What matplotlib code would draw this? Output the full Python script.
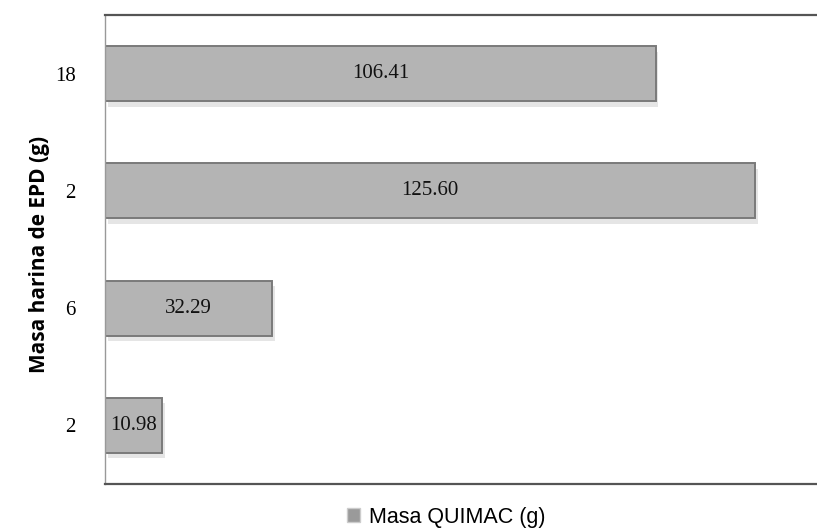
import matplotlib.pyplot as plt
import matplotlib.patheffects as pe
from matplotlib.patches import Patch

categories = ["2", "6", "2", "18"]
masa_quimac = [10.98, 32.29, 125.60, 106.41]

fig = plt.figure(figsize=(8.17, 5.31), dpi=100)
ax = fig.add_axes([105 / 817, 1 - 484 / 531, (817 - 105) / 817, (484 - 15) / 531])

pos = list(range(len(categories)))
bars = ax.barh(pos, masa_quimac, height=0.47, color="#b4b4b4",
               edgecolor="#7a7a7a", linewidth=1.4)
for b in bars:
    b.set_path_effects([pe.SimplePatchShadow(offset=(2, -4), shadow_rgbFace="#aaaaaa", alpha=0.3),
                        pe.Normal()])

for p, v in zip(pos, masa_quimac):
    ax.text(v / 2, p, f"{v:.2f}", ha="center", va="center",
            fontsize=15, family="Liberation Serif", color="#111111")

ax.set_xlim(0, 137.6)
ax.set_ylim(-0.5, len(categories) - 0.5)
ax.set_yticks(pos)
ax.set_yticklabels(categories, family="Liberation Serif", fontsize=15)
ax.tick_params(axis="y", length=0, pad=21)
ax.set_xticks([])

for s in ["left", "bottom", "top"]:
    ax.spines[s].set_color("#555555")
ax.spines["left"].set_linewidth(1.0)
ax.spines["left"].set_color("#999999")
ax.spines["bottom"].set_linewidth(1.6)
ax.spines["top"].set_linewidth(1.6)
ax.spines["right"].set_visible(False)

fig.text(40 / 817, 1 - 254 / 531, "Masa harina de EPD (g)", rotation=90,
         ha="center", va="center", fontsize=15, fontweight="bold", family="Open Sans")

leg_handle = Patch(facecolor="#9a9a9a", edgecolor="#cccccc")
fig.legend([leg_handle], ["Masa QUIMAC (g)"], loc="center",
           bbox_to_anchor=(446 / 817, 1 - 517 / 531), frameon=False,
           prop={"family": "Liberation Sans", "size": 15.5},
           handlelength=0.6, handleheight=0.6, handletextpad=0.4)

fig.savefig("out.png", dpi=100)
